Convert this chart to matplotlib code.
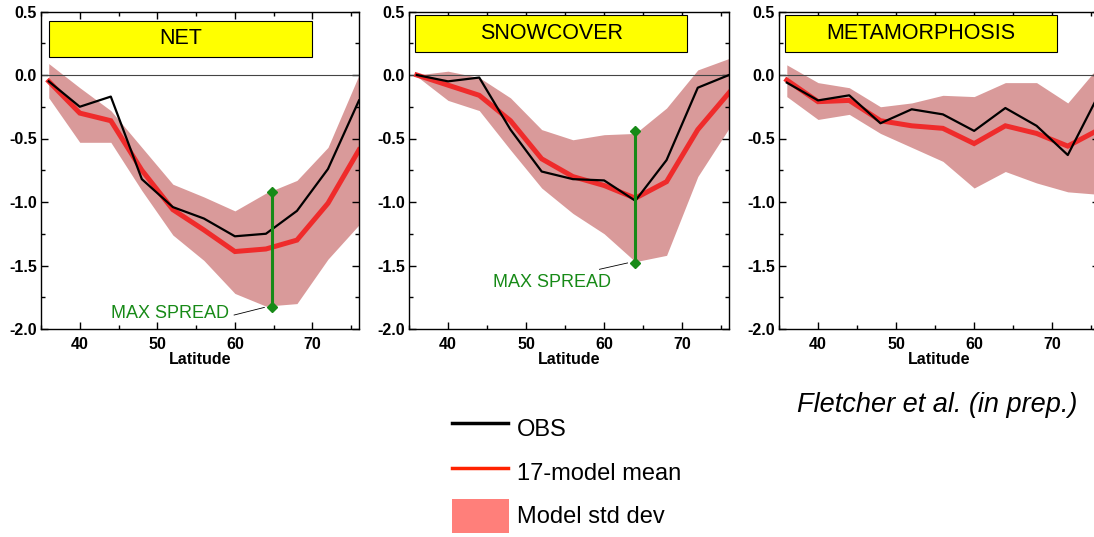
import matplotlib.pyplot as plt
from matplotlib.patches import Rectangle
from matplotlib.lines import Line2D
from matplotlib.ticker import MultipleLocator

plt.rcParams['font.family'] = ['Liberation Sans', 'DejaVu Sans']

# latitude grid shared by all panels
lat = [36, 40, 44, 48, 52, 56, 60, 64, 68, 72, 76]

titles = ['NET', 'SNOWCOVER', 'METAMORPHOSIS']

# NET
net_obs = [-0.05, -0.25, -0.17, -0.82, -1.04, -1.13, -1.27, -1.25, -1.07, -0.74, -0.20]
net_mean = [-0.05, -0.30, -0.36, -0.75, -1.06, -1.22, -1.39, -1.37, -1.30, -1.01, -0.59]
net_hi = [0.09, -0.10, -0.28, -0.57, -0.86, -0.96, -1.07, -0.93, -0.83, -0.57, 0.00]
net_lo = [-0.18, -0.53, -0.53, -0.91, -1.26, -1.46, -1.72, -1.82, -1.80, -1.45, -1.18]

# SNOWCOVER
snow_obs = [0.00, -0.05, -0.02, -0.43, -0.76, -0.82, -0.83, -0.99, -0.67, -0.10, 0.00]
snow_mean = [0.00, -0.08, -0.16, -0.36, -0.66, -0.80, -0.87, -0.97, -0.84, -0.43, -0.14]
snow_hi = [0.00, 0.03, -0.02, -0.18, -0.43, -0.51, -0.47, -0.46, -0.26, 0.04, 0.13]
snow_lo = [-0.01, -0.20, -0.28, -0.59, -0.89, -1.09, -1.25, -1.47, -1.42, -0.80, -0.42]

# METAMORPHOSIS
meta_obs = [-0.06, -0.20, -0.16, -0.38, -0.27, -0.31, -0.44, -0.26, -0.40, -0.63, -0.15]
meta_mean = [-0.04, -0.21, -0.20, -0.36, -0.40, -0.42, -0.54, -0.40, -0.46, -0.56, -0.43]
meta_hi = [0.08, -0.06, -0.10, -0.25, -0.22, -0.16, -0.17, -0.06, -0.06, -0.22, 0.07]
meta_lo = [-0.17, -0.35, -0.31, -0.46, -0.57, -0.68, -0.89, -0.76, -0.85, -0.92, -0.94]

# max spread markers (panel 1 and 2)
spread_lat = [64.8, 64.0]
spread_top = [-0.92, -0.44]
spread_bot = [-1.83, -1.48]

obs_all = [net_obs, snow_obs, meta_obs]
mean_all = [net_mean, snow_mean, meta_mean]
hi_all = [net_hi, snow_hi, meta_hi]
lo_all = [net_lo, snow_lo, meta_lo]

band_col = '#d99a9a'
red_col = '#ef2b2b'
green_col = '#178a17'

fig = plt.figure(figsize=(10.94, 5.37), dpi=100)

lefts = [41, 409, 779]
widths = [318, 320, 320]
boxes = [(0.025, 0.857, 0.827, 0.113), (0.019, 0.872, 0.850, 0.117), (0.019, 0.872, 0.850, 0.117)]

for i in range(3):
    ax = fig.add_axes([lefts[i] / 1094, 1 - 329 / 537, widths[i] / 1094, 317.5 / 537])
    ax.fill_between(lat, lo_all[i], hi_all[i], color=band_col, lw=0)
    ax.axhline(0, color='#444444', lw=0.8)
    ax.plot(lat, mean_all[i], color=red_col, lw=3.6, solid_joinstyle='miter')
    ax.plot(lat, obs_all[i], color='black', lw=1.6)
    ax.set_xlim(35, 76)
    ax.set_ylim(-2.0, 0.5)
    ax.xaxis.set_major_locator(MultipleLocator(10))
    ax.xaxis.set_minor_locator(MultipleLocator(5))
    ax.yaxis.set_major_locator(MultipleLocator(0.5))
    ax.yaxis.set_minor_locator(MultipleLocator(0.25))
    ax.tick_params(which='both', direction='in', top=True, right=True, width=1.0)
    ax.tick_params(which='major', length=5)
    ax.tick_params(which='minor', length=3)
    ax.tick_params(axis='x', pad=6)
    ax.tick_params(axis='y', pad=3)
    ax.set_xticks([40, 50, 60, 70])
    ax.set_yticks([0.5, 0.0, -0.5, -1.0, -1.5, -2.0])
    ax.set_yticklabels(['0.5', '0.0', '-0.5', '-1.0', '-1.5', '-2.0'])
    for lab in ax.get_xticklabels() + ax.get_yticklabels():
        lab.set_fontweight('bold')
        lab.set_fontsize(11.5)
    ax.set_xlabel('Latitude', fontsize=11.5, fontweight='bold', labelpad=0)
    for s in ax.spines.values():
        s.set_linewidth(1.0)

    bx, by, bw, bh = boxes[i]
    ax.add_patch(Rectangle((bx, by), bw, bh, transform=ax.transAxes,
                           facecolor='#ffff00', edgecolor='black', lw=0.8, zorder=5))
    ax.text(bx + bw / 2, by + bh / 2, titles[i], transform=ax.transAxes,
            ha='center', va='center', fontsize=15.5, zorder=6)

    if i < 2:
        ax.plot([spread_lat[i], spread_lat[i]], [spread_top[i], spread_bot[i]],
                color=green_col, lw=2.2, marker='D', ms=5, zorder=7)
    if i == 0:
        ax.text(44.0, -1.88, 'MAX SPREAD', color=green_col, fontsize=13,
                ha='left', va='center')
        ax.plot([59.9, 63.8], [-1.89, -1.83], color='black', lw=0.6)
    if i == 1:
        ax.text(45.7, -1.63, 'MAX SPREAD', color=green_col, fontsize=13,
                ha='left', va='center')
        ax.plot([59.4, 63.0], [-1.53, -1.48], color='black', lw=0.6)

# legend drawn in figure coordinates
fig.add_artist(Line2D([452 / 1094, 508 / 1094], [1 - 423 / 537] * 2, color='black', lw=2.5))
fig.add_artist(Line2D([452 / 1094, 508 / 1094], [1 - 468 / 537] * 2, color='#ff2200', lw=2.5))
fig.add_artist(Rectangle((452 / 1094, 1 - 533 / 537), 57 / 1094, 34 / 537,
                         facecolor='#ff7f7a', edgecolor='none'))
fig.text(517 / 1094, 1 - 430 / 537, 'OBS', fontsize=17, va='center', ha='left')
fig.text(517 / 1094, 1 - 474 / 537, '17-model mean', fontsize=17, va='center', ha='left')
fig.text(517 / 1094, 1 - 517 / 537, 'Model std dev', fontsize=17, va='center', ha='left')
fig.text(797 / 1094, 1 - 405 / 537, 'Fletcher et al. (in prep.)', fontsize=19.5,
         style='italic', va='center', ha='left')

fig.savefig('out.png', dpi=100)
